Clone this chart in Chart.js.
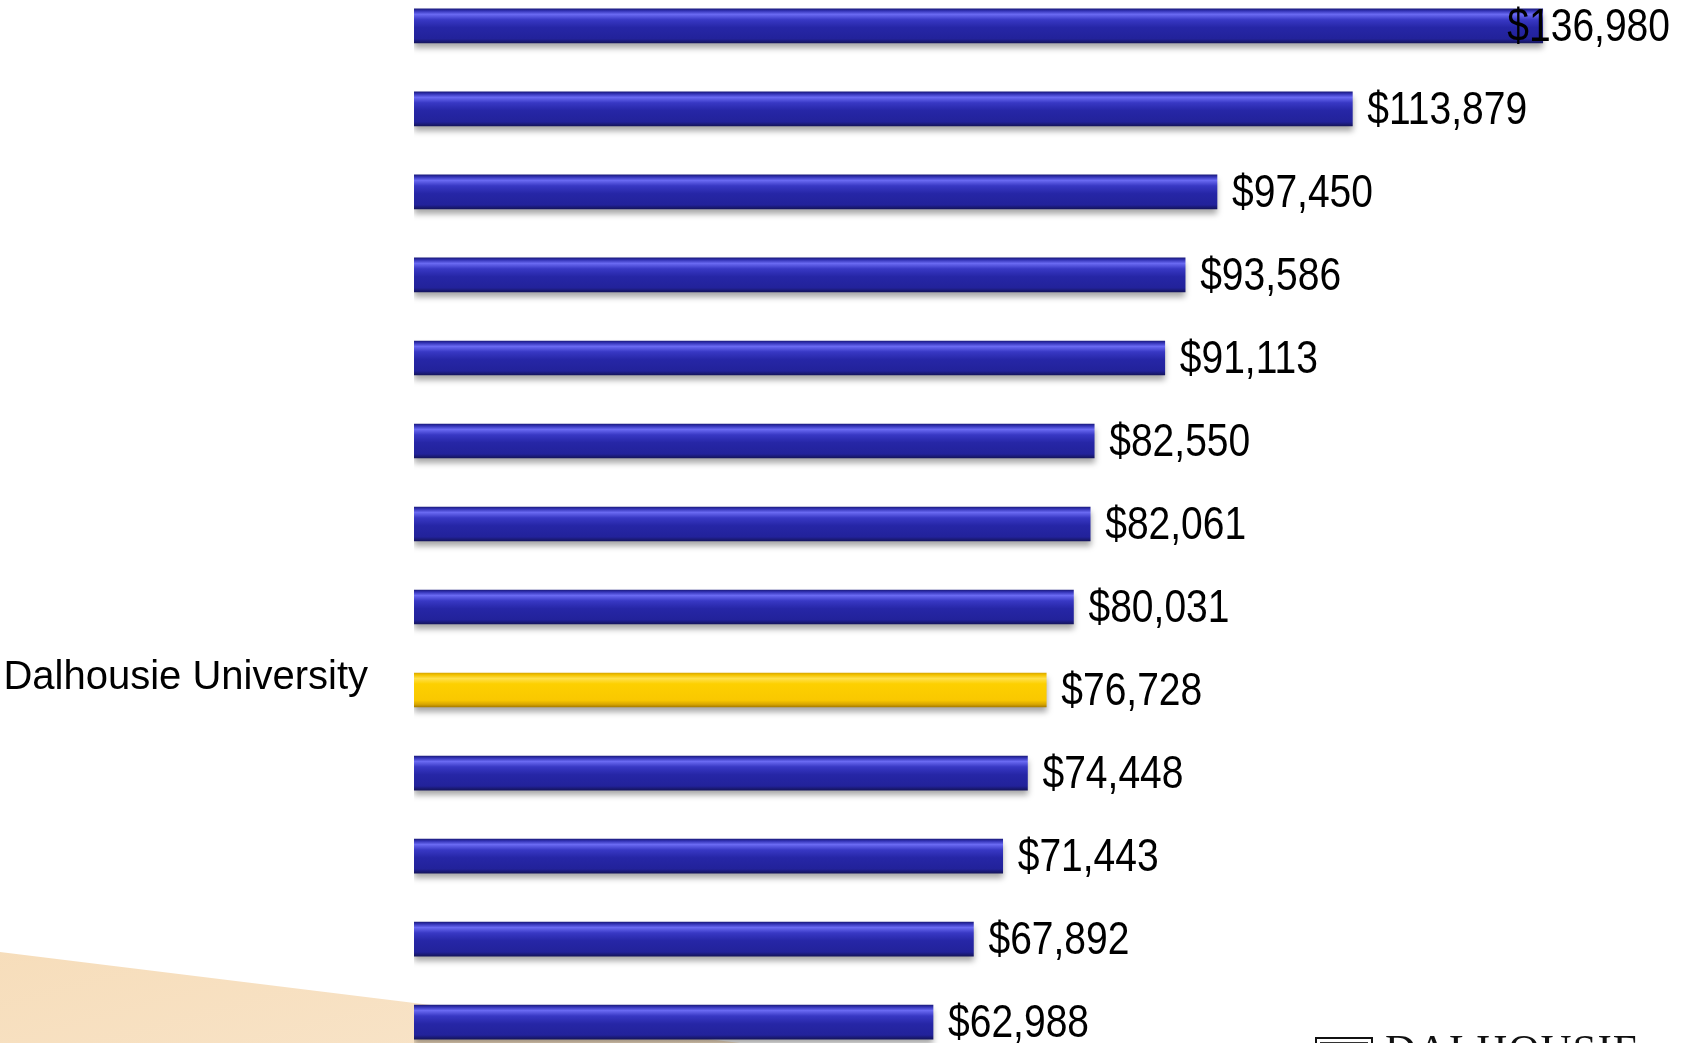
<!DOCTYPE html>
<html>
<head>
<meta charset="utf-8">
<script src="https://cdn.jsdelivr.net/npm/chart.js@4"></script>
<style>
  html, body { margin: 0; padding: 0; background: #fff; overflow: hidden; width: 1687px; height: 1043px; }
  #wedge {
    position: absolute; left: 0; top: 0; width: 1687px; height: 1043px;
    background: linear-gradient(165deg, #f1c88c 0%, #f6dcb8 60%, #faebd8 100%);
    clip-path: polygon(0 952px, 740px 1043px, 0 1043px);
  }
  #wrap { position: absolute; left: 0; top: -16px; width: 1687px; height: 1080px; }
  #logo { position: absolute; left: 1315px; top: 1036px; height: 40px; }
  #logo .box { position: absolute; left: 0; top: 1px; width: 54px; height: 36px; border: 2px solid #111; }
  #logo .box::after { content: ''; position: absolute; left: 3px; top: 3px; right: 3px; bottom: 3px; border: 1px solid #333; }
  #logo .txt { position: absolute; left: 70px; top: -8px; font: 43px/1 'Liberation Serif', 'DejaVu Serif', serif; color: #111; letter-spacing: 1px; white-space: nowrap; }
</style>
</head>
<body>
<div id="wedge"></div>
<div id="wrap"><canvas id="grafico"></canvas></div>
<div id="logo"><div class="box"></div><div class="txt">DALHOUSIE</div></div>
<script>
// Datos
const categorias = ['', '', '', '', '', '', '', '', 'Dalhousie University', '', '', '', ''];
const valores = [136980, 113879, 97450, 93586, 91113, 82550, 82061, 80031, 76728, 74448, 71443, 67892, 62988];
const destacado = 'Dalhousie University';

const fuente = "'Liberation Sans', Arial, sans-serif";

function degradado(context) {
  const chart = context.chart;
  const esDal = categorias[context.dataIndex] === destacado;
  if (!chart.chartArea || !chart.scales.y) return esDal ? '#fccc00' : '#2a2aa8';
  const c = chart.scales.y.getPixelForValue(context.dataIndex);
  const g = chart.ctx.createLinearGradient(0, c - 17, 0, c + 17);
  if (esDal) {
    g.addColorStop(0, '#d9a800');
    g.addColorStop(0.06, '#f4c400');
    g.addColorStop(0.16, '#ffe04a');
    g.addColorStop(0.32, '#fdd000');
    g.addColorStop(0.8, '#f9c800');
    g.addColorStop(0.92, '#d8a600');
    g.addColorStop(1, '#a87c00');
  } else {
    g.addColorStop(0, '#1c1c80');
    g.addColorStop(0.06, '#3434b8');
    g.addColorStop(0.16, '#6a6af2');
    g.addColorStop(0.32, '#3838c4');
    g.addColorStop(0.55, '#2626a6');
    g.addColorStop(0.88, '#22229a');
    g.addColorStop(1, '#15155e');
  }
  return g;
}

const sombra = {
  id: 'sombra',
  beforeDatasetDraw(chart) {
    const ctx = chart.ctx;
    ctx.save();
    ctx.shadowColor = 'rgba(0,0,0,0.35)';
    ctx.shadowBlur = 6;
    ctx.shadowOffsetY = 5;
  },
  afterDatasetDraw(chart) {
    chart.ctx.restore();
  }
};

// valores en letra estrecha (Arial Narrow simulada)
const etiquetas = {
  id: 'etiquetas',
  afterDatasetsDraw(chart) {
    const ctx = chart.ctx;
    const meta = chart.getDatasetMeta(0);
    const sx = 0.83;
    ctx.save();
    ctx.font = '47px ' + fuente;
    ctx.fillStyle = '#000';
    ctx.textBaseline = 'middle';
    ctx.textAlign = 'left';
    meta.data.forEach((bar, i) => {
      const txt = '$' + valores[i].toLocaleString('en-US');
      const w = ctx.measureText(txt).width * sx;
      let x = bar.x + 15;
      if (x + w > 1670) x = 1670 - w;
      ctx.save();
      ctx.translate(x, bar.y + 2);
      ctx.scale(sx, 1);
      ctx.fillText(txt, 0, 0);
      ctx.restore();
    });
    ctx.restore();
  }
};

const ctx = document.getElementById('grafico').getContext('2d');
new Chart(ctx, {
  type: 'bar',
  data: {
    labels: categorias,
    datasets: [{
      data: valores,
      backgroundColor: degradado,
      borderWidth: 0,
      barThickness: 34
    }]
  },
  options: {
    indexAxis: 'y',
    responsive: true,
    maintainAspectRatio: false,
    animation: false,
    layout: { padding: { left: 0, right: 37, top: 0, bottom: 0 } },
    plugins: {
      legend: { display: false },
      tooltip: { enabled: false },
      title: { display: false }
    },
    scales: {
      x: {
        display: false,
        min: 0,
        max: 150000
      },
      y: {
        afterFit(scale) { scale.width = 414; },
        border: { display: false },
        grid: {
          display: true,
          drawOnChartArea: false,
          drawTicks: true,
          tickLength: 46,
          tickColor: 'rgba(0,0,0,0)',
          color: 'rgba(0,0,0,0)'
        },
        ticks: {
          color: '#000',
          padding: 0,
          labelOffset: -12,
          autoSkip: false,
          font: { family: fuente, size: 40, lineHeight: 0.02 }
        }
      }
    }
  },
  plugins: [sombra, etiquetas]
});
</script>
</body>
</html>
